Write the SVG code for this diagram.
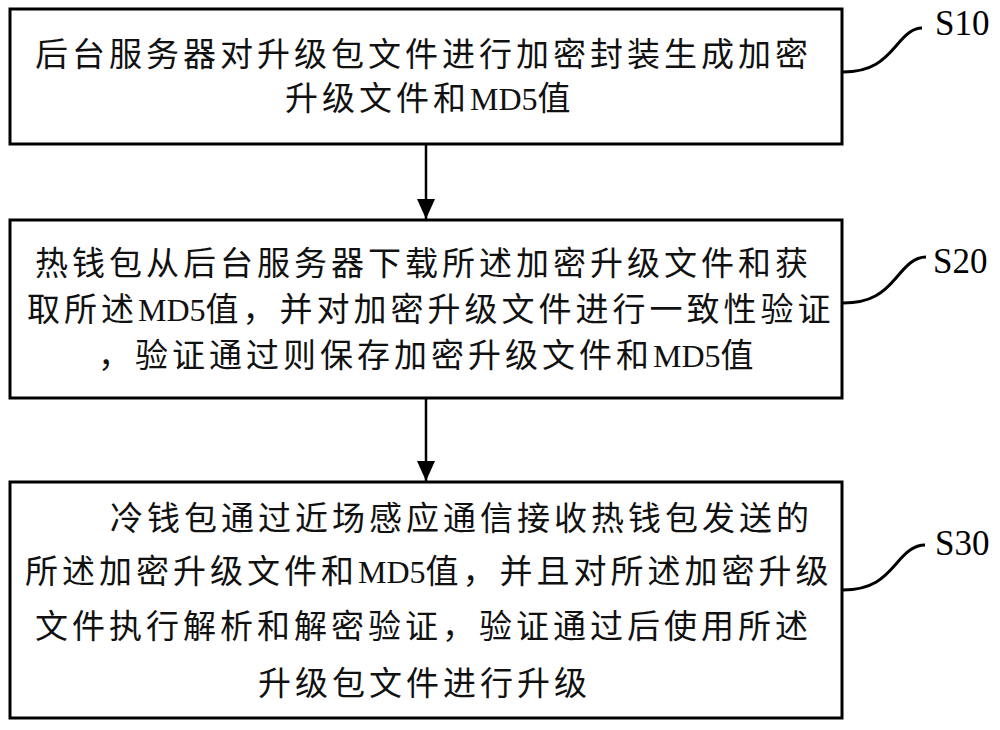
<svg xmlns="http://www.w3.org/2000/svg" width="1000" height="730" viewBox="0 0 1000 730">
<style>
.box{fill:#fff;stroke:#000;stroke-width:3}
.t{font-family:"Liberation Serif","Noto Sans CJK SC",serif;font-size:33px;letter-spacing:4px;fill:#111}
.m{letter-spacing:0;font-size:32px}
.lbl{font-family:"Liberation Serif",serif;font-size:35px;fill:#000}
.conn{fill:none;stroke:#000;stroke-width:2.5}
.lead{fill:none;stroke:#000;stroke-width:3}
</style>
<defs>
<marker id="ah" markerWidth="20" markerHeight="18" refX="20" refY="9" orient="auto" markerUnits="userSpaceOnUse" viewBox="0 0 20 18">
<path d="M0,0 L20,9 L0,18 Z" fill="#000"/>
</marker>
</defs>
<rect width="1000" height="730" fill="#fff"/>
<g id="S10">
<rect class="box" x="10" y="9" width="832" height="135"/>
<text class="t" x="35" y="66">后台服务器对升级包文件进行加密封装生成加密</text>
<text class="t" x="285" y="110">升级文件和<tspan class="m">MD5</tspan>值</text>
<path class="lead" d="M843,72 C872,72 884,60 896,46 C906,34 913,28 922,28"/>
<text class="lbl" x="935" y="35">S10</text>
</g>
<g id="S20">
<rect class="box" x="10" y="220" width="832" height="178"/>
<text class="t" x="35" y="275">热钱包从后台服务器下载所述加密升级文件和获</text>
<text class="t" x="27" y="321">取所述<tspan class="m">MD5</tspan>值，并对加密升级文件进行一致性验证</text>
<text class="t" x="98" y="367">，验证通过则保存加密升级文件和<tspan class="m">MD5</tspan>值</text>
<path class="lead" d="M843,303 C872,303 884,292 896,278 C906,266 914,257 926,257"/>
<text class="lbl" x="933" y="273">S20</text>
</g>
<g id="S30">
<rect class="box" x="10" y="482" width="832" height="236"/>
<text class="t" x="110" y="530">冷钱包通过近场感应通信接收热钱包发送的</text>
<text class="t" x="25" y="583">所述加密升级文件和<tspan class="m">MD5</tspan>值，并且对所述加密升级</text>
<text class="t" x="35" y="638">文件执行解析和解密验证，验证通过后使用所述</text>
<text class="t" x="258" y="695">升级包文件进行升级</text>
<path class="lead" d="M843,590 C872,590 884,578 896,564 C906,552 914,545 925,545"/>
<text class="lbl" x="935" y="555">S30</text>
</g>
<g id="connectors">
<line class="conn" x1="426" y1="144" x2="426" y2="219" marker-end="url(#ah)"/>
<line class="conn" x1="426" y1="398" x2="426" y2="481" marker-end="url(#ah)"/>
</g>
</svg>
